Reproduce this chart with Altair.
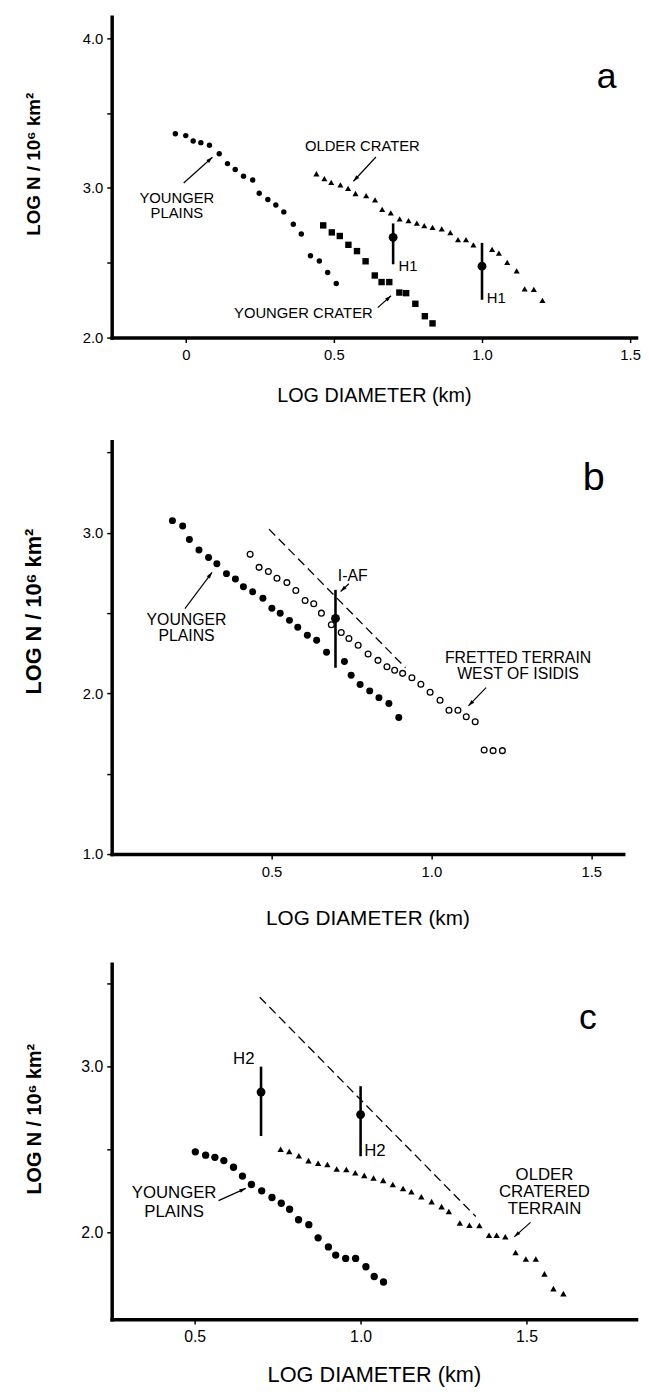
import math
import altair as alt
import pandas as pd

FONT = "Liberation Sans"
XTITLE = "LOG DIAMETER (km)"
YTITLE = "LOG N / 10\u2076 km\u00b2"

# ---------------- Panel a ----------------
a_plains_x = [-0.035, 0.0, 0.025, 0.051, 0.080, 0.113, 0.141, 0.167, 0.195, 0.226, 0.248, 0.277,
              0.304, 0.331, 0.363, 0.390, 0.421, 0.451, 0.479, 0.508]
a_plains_y = [3.362, 3.35, 3.314, 3.303, 3.286, 3.229, 3.163, 3.123, 3.079, 3.053, 2.965, 2.923,
              2.886, 2.84, 2.758, 2.692, 2.547, 2.512, 2.435, 2.362]
a_ycrater_x = [0.464, 0.493, 0.520, 0.549, 0.578, 0.607, 0.638, 0.661, 0.687, 0.721, 0.744, 0.775, 0.807, 0.833]
a_ycrater_y = [2.75, 2.703, 2.679, 2.62, 2.578, 2.51, 2.415, 2.371, 2.371, 2.301, 2.297, 2.226, 2.143, 2.095]
a_ocrater_x = [0.441, 0.468, 0.491, 0.522, 0.548, 0.573, 0.609, 0.639, 0.663, 0.692, 0.722, 0.752, 0.780,
               0.805, 0.833, 0.864, 0.893, 0.919, 0.946, 0.971, 1.034, 1.057, 1.085, 1.117, 1.144, 1.175, 1.204]
a_ocrater_y = [3.095, 3.062, 3.037, 3.02, 2.998, 2.963, 2.949, 2.921, 2.857, 2.833, 2.793, 2.782, 2.765,
               2.749, 2.736, 2.727, 2.701, 2.655, 2.655, 2.62, 2.589, 2.565, 2.503, 2.446, 2.325, 2.323, 2.248]
a_bar_x = [0.70, 1.0]
a_bar_lo = [2.49, 2.253]
a_bar_hi = [2.763, 2.633]
a_bar_mid = [2.67, 2.477]
a_dash = []
a_arrows = [(-0.007, 3.033, 0.090, 3.205), (0.642, 3.207, 0.566, 3.045), (0.648, 2.20, 0.693, 2.28)]
a_labels = [("YOUNGER", -0.03, 2.934, "center"), ("PLAINS", -0.03, 2.835, "center"),
            ("OLDER CRATER", 0.596, 3.283, "center"), ("YOUNGER CRATER", 0.397, 2.162, "center"),
            ("H1", 0.718, 2.477, "left"), ("H1", 1.016, 2.262, "left")]
a_letter = ("a", 1.421, 3.67)

# ---------------- Panel b ----------------
b_plains_x = [0.190, 0.222, 0.243, 0.273, 0.303, 0.329, 0.359, 0.387, 0.412, 0.441, 0.473, 0.501, 0.527,
              0.556, 0.582, 0.612, 0.641, 0.672, 0.728, 0.749, 0.777, 0.807, 0.836, 0.867, 0.898]
b_plains_y = [3.076, 3.043, 2.959, 2.893, 2.847, 2.808, 2.746, 2.713, 2.664, 2.633, 2.593, 2.531, 2.50,
              2.455, 2.412, 2.362, 2.331, 2.257, 2.199, 2.113, 2.055, 2.016, 1.974, 1.937, 1.850]
b_fretted_x = [0.433, 0.461, 0.490, 0.517, 0.548, 0.576, 0.605, 0.632, 0.656, 0.687, 0.718, 0.742, 0.771,
               0.802, 0.833, 0.861, 0.885, 0.910, 0.939, 0.967, 0.996, 1.027, 1.055, 1.083, 1.109, 1.137,
               1.165, 1.193, 1.222]
b_fretted_y = [2.866, 2.785, 2.759, 2.717, 2.690, 2.641, 2.579, 2.558, 2.50, 2.428, 2.379, 2.342, 2.30,
               2.246, 2.206, 2.166, 2.144, 2.125, 2.098, 2.057, 2.007, 1.958, 1.896, 1.896, 1.855, 1.824,
               1.648, 1.644, 1.644]
b_bar_x = [0.70]
b_bar_lo = [2.16]
b_bar_hi = [2.645]
b_bar_mid = [2.467]
b_dash = [(0.492, 3.023, 0.919, 2.16)]
b_arrows = [(0.229, 2.528, 0.314, 2.754), (0.742, 2.683, 0.716, 2.635), (1.171, 2.036, 1.116, 1.923)]
b_labels = [("YOUNGER", 0.234, 2.457, "center"), ("PLAINS", 0.234, 2.359, "center"),
            ("I-AF", 0.754, 2.732, "center"),
            ("FRETTED TERRAIN", 1.271, 2.219, "center"), ("WEST OF ISIDIS", 1.271, 2.121, "center")]
b_letter = ("b", 1.508, 3.266)

# ---------------- Panel c ----------------
c_plains_x = [0.502, 0.533, 0.561, 0.588, 0.617, 0.644, 0.671, 0.702, 0.733, 0.761, 0.786, 0.813, 0.844,
              0.872, 0.903, 0.925, 0.955, 0.985, 1.016, 1.041, 1.069]
c_plains_y = [2.484, 2.464, 2.451, 2.431, 2.391, 2.338, 2.287, 2.249, 2.209, 2.174, 2.138, 2.075, 2.045,
              1.966, 1.911, 1.862, 1.842, 1.842, 1.792, 1.733, 1.700]
c_older_x = [0.759, 0.785, 0.814, 0.843, 0.872, 0.900, 0.928, 0.957, 0.984, 1.011, 1.039, 1.068, 1.097,
             1.128, 1.153, 1.183, 1.214, 1.244, 1.266, 1.299, 1.328, 1.358, 1.387, 1.410, 1.436, 1.467,
             1.498, 1.528, 1.554, 1.581, 1.611]
c_older_y = [2.50, 2.486, 2.46, 2.431, 2.415, 2.407, 2.381, 2.377, 2.358, 2.342, 2.326, 2.312, 2.287,
             2.263, 2.243, 2.213, 2.184, 2.154, 2.125, 2.055, 2.042, 2.040, 1.982, 1.982, 1.972, 1.877,
             1.838, 1.838, 1.749, 1.660, 1.630]
c_bar_x = [0.70, 1.0]
c_bar_lo = [2.579, 2.457]
c_bar_hi = [2.997, 2.879]
c_bar_mid = [2.844, 2.708]
c_dash = [(0.696, 3.415, 1.347, 2.094)]
c_arrows = [(0.572, 2.19, 0.654, 2.264), (1.512, 2.059, 1.463, 1.972)]
c_labels = [("H2", 0.648, 3.04, "center"), ("H2", 1.011, 2.488, "left"),
            ("YOUNGER", 0.438, 2.233, "center"), ("PLAINS", 0.438, 2.124, "center"),
            ("OLDER", 1.554, 2.341, "center"), ("CRATERED", 1.554, 2.239, "center"),
            ("TERRAIN", 1.554, 2.140, "center")]
c_letter = ("c", 1.685, 3.222)

ARROW_HEAD = "M0,0L1,3.2L-1,3.2Z"


def make_panel(xdom, ydom, width, height, xticks, yticks, series, bars, dashes, arrows,
               labels, letter, fs, xlab_pad, xtitle_pad, xtitle_size, ytitle_size,
               ytitle_x, ytitle_y, tick_fs, letter_fs):
    sx = width / (xdom[1] - xdom[0])
    sy = height / (ydom[1] - ydom[0])
    xs = alt.Scale(domain=xdom, nice=False, zero=False)
    ys = alt.Scale(domain=ydom, nice=False, zero=False)
    xaxis = alt.Axis(values=xticks, title=XTITLE, titleFontSize=xtitle_size,
                     labelExpr="datum.value == 0 ? '0' : format(datum.value, '.1f')",
                     labelPadding=xlab_pad, titlePadding=xtitle_pad, labelFontSize=tick_fs,
                     titleFontWeight="normal")
    yaxis = alt.Axis(values=yticks, title=YTITLE, titleFontSize=ytitle_size,
                     labelExpr="abs(datum.value - round(datum.value)) < 0.001 ? format(datum.value, '.1f') : ''",
                     labelFontSize=tick_fs, titleFontWeight="bold", titleX=ytitle_x, titleY=ytitle_y,
                     labelPadding=4)

    def X(f):
        return alt.X(f + ":Q", scale=xs, axis=xaxis, title=XTITLE)

    def Y(f):
        return alt.Y(f + ":Q", scale=ys, axis=yaxis, title=YTITLE)

    layers = []
    for s in series:
        df = pd.DataFrame({"x": s["x"], "y": s["y"]})
        layers.append(
            alt.Chart(df).mark_point(shape=s["shape"], size=s["size"], filled=s["filled"],
                                     color="black", opacity=1, strokeWidth=s.get("sw", 1))
            .encode(x=X("x"), y=Y("y"))
        )
    # error bars
    bx, blo, bhi, bmid = bars
    if bx:
        bdf = pd.DataFrame({"x": bx, "lo": blo, "hi": bhi, "mid": bmid})
        layers.append(alt.Chart(bdf).mark_rule(color="black", strokeWidth=2.6)
                      .encode(x=X("x"), y=Y("lo"), y2=alt.Y2("hi:Q")))
        layers.append(alt.Chart(bdf).mark_point(shape="circle", size=80, filled=True, color="black", opacity=1)
                      .encode(x=X("x"), y=Y("mid")))
    # dashed lines
    if dashes:
        ddf = pd.DataFrame(dashes, columns=["x", "y", "x2", "y2"])
        layers.append(alt.Chart(ddf).mark_rule(color="black", strokeWidth=1.3, strokeDash=[9, 5])
                      .encode(x=X("x"), y=Y("y"), x2=alt.X2("x2:Q"), y2=alt.Y2("y2:Q")))
    # arrows
    if arrows:
        adf = pd.DataFrame(arrows, columns=["x", "y", "x2", "y2"])
        angs = []
        for (x0, y0, x1, y1) in arrows:
            dxp = (x1 - x0) * sx
            dyp = -(y1 - y0) * sy
            angs.append(math.degrees(math.atan2(dxp, -dyp)) % 360)
        adf["ang"] = angs
        layers.append(alt.Chart(adf).mark_rule(color="black", strokeWidth=1.2)
                      .encode(x=X("x"), y=Y("y"), x2=alt.X2("x2:Q"), y2=alt.Y2("y2:Q")))
        layers.append(alt.Chart(adf).mark_point(shape=ARROW_HEAD, size=16, filled=True, color="black", opacity=1)
                      .encode(x=X("x2"), y=Y("y2"), angle=alt.Angle("ang:Q", scale=None)))
    # labels
    ldf = pd.DataFrame(labels, columns=["t", "x", "y", "al"])
    for al in ["center", "left"]:
        sub = ldf[ldf["al"] == al]
        if len(sub):
            layers.append(alt.Chart(sub).mark_text(align=al, baseline="middle", font=FONT, fontSize=fs,
                                                   color="black")
                          .encode(x=X("x"), y=Y("y"), text="t:N"))
    # panel letter
    tdf = pd.DataFrame([letter], columns=["t", "x", "y"])
    layers.append(alt.Chart(tdf).mark_text(align="center", baseline="alphabetic", font=FONT,
                                           fontSize=letter_fs, color="black")
                  .encode(x=X("x"), y=Y("y"), text="t:N"))
    return alt.layer(*layers).properties(width=width, height=height)


panel_a = make_panel(
    [-0.25, 1.52], [2.0, 4.145], 531, 325, [0, 0.5, 1.0, 1.5], [2.0, 2.5, 3.0, 3.5, 4.0],
    [dict(x=a_plains_x, y=a_plains_y, shape="circle", size=30, filled=True),
     dict(x=a_ycrater_x, y=a_ycrater_y, shape="square", size=42, filled=True),
     dict(x=a_ocrater_x, y=a_ocrater_y, shape="triangle-up", size=38, filled=True)],
    (a_bar_x, a_bar_lo, a_bar_hi, a_bar_mid), a_dash, a_arrows, a_labels, a_letter,
    fs=15, xlab_pad=5, xtitle_pad=24, xtitle_size=20, ytitle_size=19,
    ytitle_x=-69, ytitle_y=149, tick_fs=15, letter_fs=36)

panel_b = make_panel(
    [0.0, 1.6], [1.0, 3.57], 518, 418, [0.5, 1.0, 1.5], [1.0, 1.5, 2.0, 2.5, 3.0, 3.5],
    [dict(x=b_plains_x, y=b_plains_y, shape="circle", size=50, filled=True),
     dict(x=b_fretted_x, y=b_fretted_y, shape="circle", size=34, filled=False, sw=1.3)],
    (b_bar_x, b_bar_lo, b_bar_hi, b_bar_mid), b_dash, b_arrows, b_labels, b_letter,
    fs=16, xlab_pad=6, xtitle_pad=28, xtitle_size=21, ytitle_size=22,
    ytitle_x=-67, ytitle_y=172, tick_fs=15, letter_fs=40)

panel_c = make_panel(
    [0.25, 1.83], [1.476, 3.617], 531, 360, [0.5, 1.0, 1.5], [2.0, 2.5, 3.0, 3.5],
    [dict(x=c_plains_x, y=c_plains_y, shape="circle", size=55, filled=True),
     dict(x=c_older_x, y=c_older_y, shape="triangle-up", size=42, filled=True)],
    (c_bar_x, c_bar_lo, c_bar_hi, c_bar_mid), c_dash, c_arrows, c_labels, c_letter,
    fs=17, xlab_pad=5, xtitle_pad=20, xtitle_size=22, ytitle_size=20,
    ytitle_x=-68, ytitle_y=157, tick_fs=16, letter_fs=36)

chart = alt.vconcat(panel_a, panel_b, panel_c, spacing=36).properties(
    padding={"left": 15, "top": 0, "right": 0, "bottom": 0}
).configure_view(stroke=None).configure_axis(
    grid=False, domainColor="black", domainWidth=3.5, domainCap="square",
    tickColor="black", tickWidth=1.5, tickSize=5,
    labelFont=FONT, labelColor="black", titleFont=FONT, titleColor="black",
)

chart.save("out.html", embed_options={"renderer": "svg", "actions": False})
